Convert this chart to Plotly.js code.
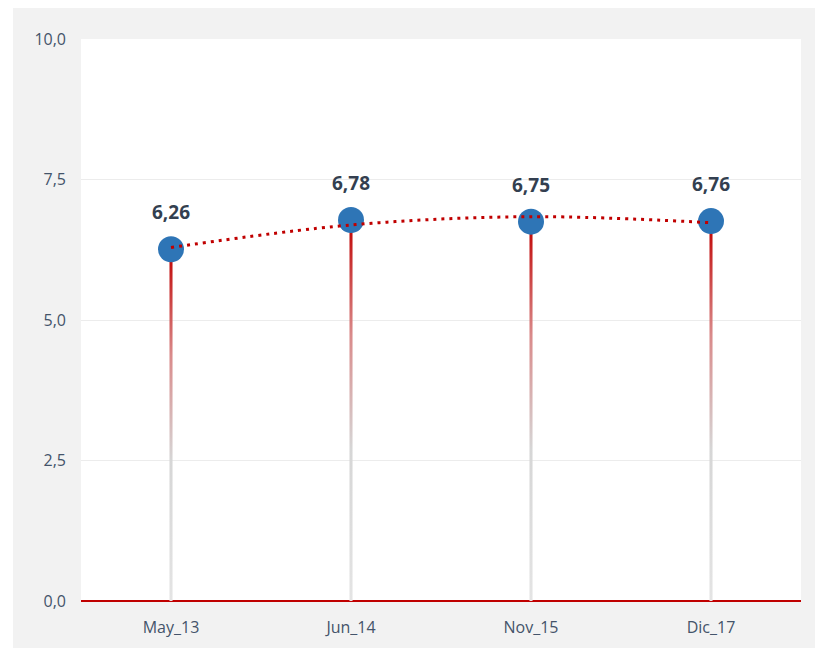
<!DOCTYPE html>
<html>
<head>
<meta charset="utf-8">
<script src="https://cdn.plot.ly/plotly-3.0.1.min.js"></script>
<style>
  html, body { margin: 0; padding: 0; background: #ffffff; }
  #chart { position: absolute; left: 13px; top: 8px; width: 802px; height: 640px; }
</style>
</head>
<body>
<div id="chart"></div>
<script>
// Values
const periods = ['May_13', 'Jun_14', 'Nov_15', 'Dic_17'];
const scores = [6.26, 6.78, 6.75, 6.76];
const yTicks = [0, 2.5, 5, 7.5, 10];

const idx = periods.map((p, i) => i);

// Polynomial (order 2) trendline, least squares like the spreadsheet does it
function quadFit(xs, ys) {
  let s = [0, 0, 0, 0, 0], t = [0, 0, 0];
  xs.forEach((x, i) => {
    for (let k = 0; k < 5; k++) s[k] += Math.pow(x, k);
    for (let k = 0; k < 3; k++) t[k] += Math.pow(x, k) * ys[i];
  });
  const A = [[s[0], s[1], s[2]], [s[1], s[2], s[3]], [s[2], s[3], s[4]]];
  const det = m => m[0][0] * (m[1][1] * m[2][2] - m[1][2] * m[2][1])
    - m[0][1] * (m[1][0] * m[2][2] - m[1][2] * m[2][0])
    + m[0][2] * (m[1][0] * m[2][1] - m[1][1] * m[2][0]);
  const D = det(A);
  const coef = [0, 1, 2].map(c => det(A.map((row, r) => row.map((v, j) => (j === c ? t[r] : v)))) / D);
  return xs.map(x => coef[0] + coef[1] * x + coef[2] * x * x);
}
const trend = quadFit(idx, scores);

const traces = [];

// Stems: thin filled strips with a vertical gradient (grey at the base, red at the top)
const half = 0.0085;
idx.forEach(i => {
  traces.push({
    x: [i - half, i + half],
    y: [scores[i], scores[i]],
    type: 'scatter',
    mode: 'lines',
    line: { width: 0, color: 'rgba(0,0,0,0)' },
    fill: 'tozeroy',
    fillgradient: {
      type: 'vertical',
      colorscale: [[0, '#e4e4e4'], [0.4, '#d6d6d6'], [0.7, '#d98a8a'], [1, '#c00000']]
    },
    hoverinfo: 'skip',
    showlegend: false
  });
});

// Points
traces.push({
  x: idx,
  y: scores,
  type: 'scatter',
  mode: 'markers',
  marker: { color: '#2e75b6', size: 26 },
  hoverinfo: 'skip',
  showlegend: false
});

// Trendline
traces.push({
  x: idx,
  y: trend,
  type: 'scatter',
  mode: 'lines',
  line: { color: '#c00000', width: 3, dash: '3px,5px', shape: 'spline' },
  hoverinfo: 'skip',
  showlegend: false
});

const annotations = idx.map(i => ({
  x: i,
  y: scores[i],
  xref: 'x',
  yref: 'y',
  text: '<b>' + scores[i].toFixed(2).replace('.', ',') + '</b>',
  showarrow: false,
  yshift: 37,
  font: { family: 'Open Sans, sans-serif', size: 19, color: '#333f50' }
}));

const layout = {
  width: 802,
  height: 640,
  paper_bgcolor: '#f2f2f2',
  plot_bgcolor: '#ffffff',
  separators: ',.',
  margin: { l: 68, r: 14, t: 31, b: 47 },
  font: { family: 'Open Sans, sans-serif', size: 16, color: '#44546a' },
  xaxis: {
    range: [-0.5, 3.5],
    tickvals: idx,
    ticktext: periods,
    showgrid: false,
    zeroline: false,
    showline: false,
    ticks: '',
    ticklabelstandoff: 15,
    fixedrange: true
  },
  yaxis: {
    range: [0, 10],
    tickvals: yTicks,
    tickformat: '.1f',
    gridcolor: '#ececec',
    gridwidth: 1,
    zeroline: true,
    zerolinecolor: '#c00000',
    zerolinewidth: 2,
    showline: false,
    ticks: '',
    ticklabelstandoff: 14,
    fixedrange: true
  },
  annotations: annotations,
  showlegend: false
};

Plotly.newPlot('chart', traces, layout, { displayModeBar: false, staticPlot: true });
</script>
</body>
</html>
